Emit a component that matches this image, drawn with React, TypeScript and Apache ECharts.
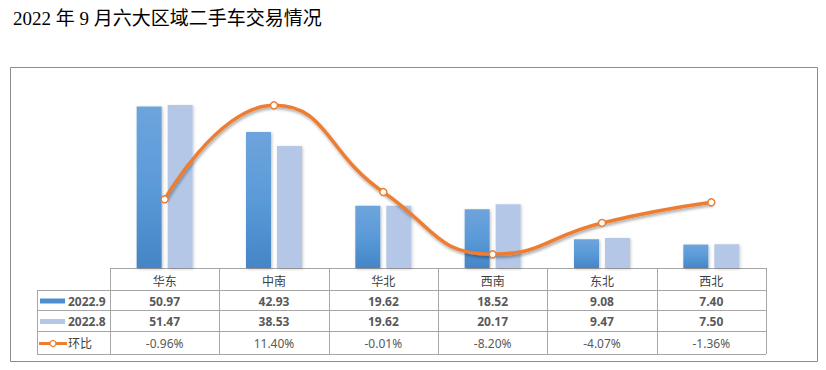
import React, { useEffect, useRef } from "react";
import * as echarts from "echarts";

const titleText = "2022 年 9 月六大区域二手车交易情况";
const categories = ["华东", "中南", "华北", "西南", "东北", "西北"];
const seriesNames = ["2022.9", "2022.8", "环比"];
const sep2022 = [50.97, 42.93, 19.62, 18.52, 9.08, 7.4];
const aug2022 = [51.47, 38.53, 19.62, 20.17, 9.47, 7.5];
const mom = [-0.96, 11.4, -0.01, -8.2, -4.07, -1.36];

const W = 826;
const H = 370;
const gridLeft = 110;
const gridRight = 766;
const gridTop = 78;
const gridBottom = 268;
const tableLeft = 37;
const rowY = [268, 290, 310, 331, 354];

const darkGrad = () =>
  new echarts.graphic.LinearGradient(0, 0, 0, 1, [
    { offset: 0, color: "#6EA4DC" },
    { offset: 0.5, color: "#5A9AD8" },
    { offset: 1, color: "#4585C6" },
  ]);

const ORANGE = "#ED7D31";
const BORDER = "#A6A6A6";
const TXT = "#595959";
const NUMFONT = "'Noto Sans', 'Noto Sans CJK SC', sans-serif";

function buildGraphic() {
  const els: any[] = [];
  const colW = (gridRight - gridLeft) / categories.length;
  // outer frame
  els.push({
    type: "rect",
    shape: { x: 10.5, y: 67.5, width: 807, height: 294 },
    style: { fill: "none", stroke: "#8C8C8C", lineWidth: 1 },
  });
  // horizontal lines
  els.push({
    type: "line",
    shape: { x1: gridLeft, y1: rowY[0] + 0.5, x2: gridRight, y2: rowY[0] + 0.5 },
    style: { stroke: BORDER, lineWidth: 1 },
  });
  for (let r = 1; r < rowY.length; r++) {
    els.push({
      type: "line",
      shape: { x1: tableLeft, y1: rowY[r] + 0.5, x2: gridRight, y2: rowY[r] + 0.5 },
      style: { stroke: BORDER, lineWidth: 1 },
    });
  }
  // vertical lines
  els.push({
    type: "line",
    shape: { x1: tableLeft + 0.5, y1: rowY[1], x2: tableLeft + 0.5, y2: rowY[4] },
    style: { stroke: BORDER, lineWidth: 1 },
  });
  for (let i = 0; i <= categories.length; i++) {
    const x = Math.round(gridLeft + i * colW) + 0.5;
    els.push({
      type: "line",
      shape: { x1: x, y1: rowY[0], x2: x, y2: rowY[4] },
      style: { stroke: BORDER, lineWidth: 1 },
    });
  }
  const rows: string[][] = [
    categories,
    sep2022.map((v) => v.toFixed(2)),
    aug2022.map((v) => v.toFixed(2)),
    mom.map((v) => v.toFixed(2) + "%"),
  ];
  const fonts = [
    "12px 'Noto Sans CJK SC', sans-serif",
    "bold 12px " + NUMFONT,
    "bold 12px " + NUMFONT,
    "12px " + NUMFONT,
  ];
  for (let r = 0; r < rows.length; r++) {
    const cy = (rowY[r] + rowY[r + 1]) / 2 + 1;
    rows[r].forEach((t, i) => {
      els.push({
        type: "text",
        x: gridLeft + (i + 0.5) * colW,
        y: cy,
        style: {
          text: t,
          fill: r === 0 ? "#404040" : TXT,
          font: fonts[r],
          align: "center",
          verticalAlign: "middle",
          textAlign: "center",
          textVerticalAlign: "middle",
        },
      });
    });
  }
  // legend keys
  const cy1 = (rowY[1] + rowY[2]) / 2 + 1;
  const cy2 = (rowY[2] + rowY[3]) / 2 + 1;
  const cy3 = (rowY[3] + rowY[4]) / 2 + 1;
  els.push({
    type: "rect",
    shape: { x: 40, y: cy1 - 2.5, width: 25, height: 5 },
    style: { fill: "#4E8ECF" },
  });
  els.push({
    type: "rect",
    shape: { x: 40, y: cy2 - 2.5, width: 25, height: 5 },
    style: { fill: "#B4C7E7" },
  });
  els.push({
    type: "line",
    shape: { x1: 39, y1: cy3, x2: 67, y2: cy3 },
    style: { stroke: ORANGE, lineWidth: 3 },
  });
  els.push({
    type: "circle",
    shape: { cx: 53, cy: cy3, r: 3 },
    style: { fill: "#fff", stroke: ORANGE, lineWidth: 1.2 },
  });
  const keyY = [cy1, cy2, cy3];
  seriesNames.forEach((n, i) => {
    els.push({
      type: "text",
      x: 68,
      y: keyY[i],
      style: {
        text: n,
        fill: i === 2 ? "#404040" : TXT,
        font: (i === 2 ? "" : "bold ") + "12px " + NUMFONT,
        align: "left",
        verticalAlign: "middle",
        textAlign: "left",
        textVerticalAlign: "middle",
      },
    });
  });
  return els;
}

export default function App() {
  const ref = useRef<HTMLDivElement>(null);
  useEffect(() => {
    if (!ref.current) return;
    const chart = echarts.init(ref.current, null, { renderer: "svg" });
    chart.setOption({
      animation: false,
      backgroundColor: "#ffffff",
      title: {
        text: titleText,
        left: 8,
        top: 4,
        textStyle: {
          fontFamily: "'Liberation Serif', 'Noto Sans CJK SC', serif",
          fontSize: 19,
          fontWeight: "normal",
          color: "#000000",
        },
      },
      grid: {
        left: gridLeft,
        right: W - gridRight,
        top: gridTop,
        bottom: H - gridBottom,
        containLabel: false,
      },
      xAxis: {
        type: "category",
        data: categories,
        axisLine: { show: false },
        axisTick: { show: false },
        axisLabel: { show: false },
      },
      yAxis: [
        { type: "value", min: 0, max: 60, show: false, splitLine: { show: false } },
        { type: "value", min: -10, max: 15, show: false, splitLine: { show: false } },
      ],
      series: [
        {
          name: seriesNames[0],
          type: "bar",
          data: sep2022,
          barWidth: 25,
          barGap: "24%",
          itemStyle: {
            color: darkGrad(),
            shadowColor: "rgba(0,0,0,0.25)",
            shadowBlur: 3,
            shadowOffsetX: 1,
            shadowOffsetY: 1,
          },
        },
        {
          name: seriesNames[1],
          type: "bar",
          data: aug2022,
          barWidth: 25,
          itemStyle: {
            color: "#B4C7E7",
            shadowColor: "rgba(0,0,0,0.2)",
            shadowBlur: 3,
            shadowOffsetX: 1,
            shadowOffsetY: 1,
          },
        },
        {
          name: seriesNames[2],
          type: "line",
          yAxisIndex: 1,
          data: mom,
          smooth: 0.5,
          symbol: "circle",
          symbolSize: 7,
          z: 5,
          lineStyle: {
            color: ORANGE,
            width: 3.5,
            shadowColor: "rgba(0,0,0,0.35)",
            shadowBlur: 3,
            shadowOffsetX: 1,
            shadowOffsetY: 2,
          },
          itemStyle: { color: "#ffffff", borderColor: ORANGE, borderWidth: 1.5 },
        },
      ],
      graphic: buildGraphic(),
    });
    return () => chart.dispose();
  }, []);
  return (
    <div
      ref={ref}
      style={{ position: "absolute", left: 0, top: 0, width: W, height: H }}
    />
  );
}
